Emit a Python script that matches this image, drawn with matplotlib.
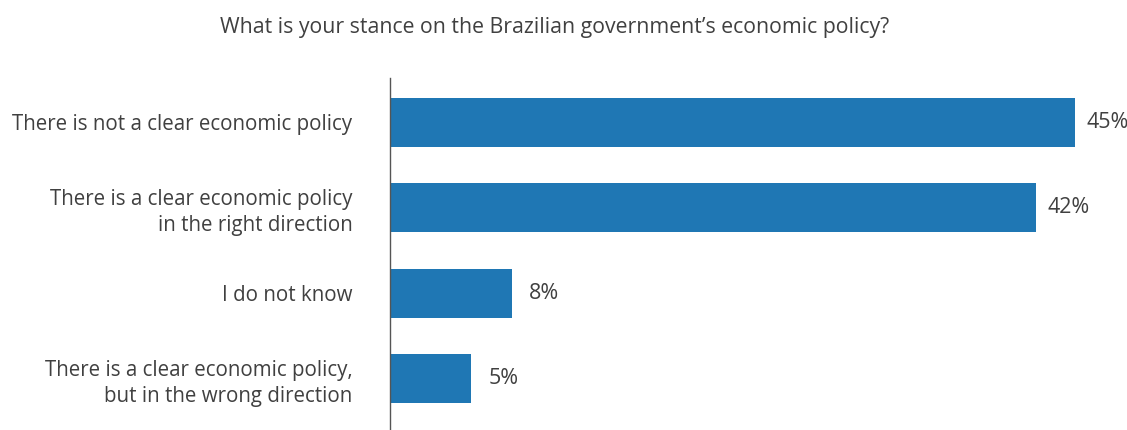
import matplotlib
matplotlib.use("Agg")
import matplotlib.pyplot as plt

categories = [
    "There is not a clear economic policy",
    "There is a clear economic policy\nin the right direction",
    "I do not know",
    "There is a clear economic policy,\nbut in the wrong direction",
]
values = [45.0, 42.4, 8.0, 5.3]
value_labels = ["45%", "42%", "8%", "5%"]
title = "What is your stance on the Brazilian government\u2019s economic policy?"

plt.rcParams['font.family'] = ['Open Sans', 'DejaVu Sans']
text_color = "#404040"

fig = plt.figure(figsize=(11.27, 4.30), dpi=100)
ax = fig.add_axes([390/1127, 0.0, (1127-390)/1127, 1 - 78/430])

pos = list(range(len(categories)))
ax.barh(pos, values, height=0.575, color="#1f77b4")
ax.set_ylim(3.6, -0.52)
ax.set_xlim(0, 48.4)

for p, v, lab in zip(pos, values, value_labels):
    ax.annotate(lab, (v, p), xytext=(23.5, 0), textcoords="offset points",
                va="center", ha="center", fontsize=15.5, color=text_color,
                annotation_clip=False)

ax.set_yticks(pos)
ax.set_yticklabels(categories, fontsize=14.8, color=text_color, ha="right",
                   linespacing=1.3)
ax.tick_params(axis="y", length=0, pad=27)
ax.set_xticks([])
for s in ["top", "right", "bottom"]:
    ax.spines[s].set_visible(False)
ax.spines["left"].set_color("#555555")
ax.spines["left"].set_linewidth(1)

fig.text(555/1127, 1 - 27/430, title, ha="center", va="center",
         fontsize=15.3, color=text_color)

fig.savefig("out.png", dpi=100)
